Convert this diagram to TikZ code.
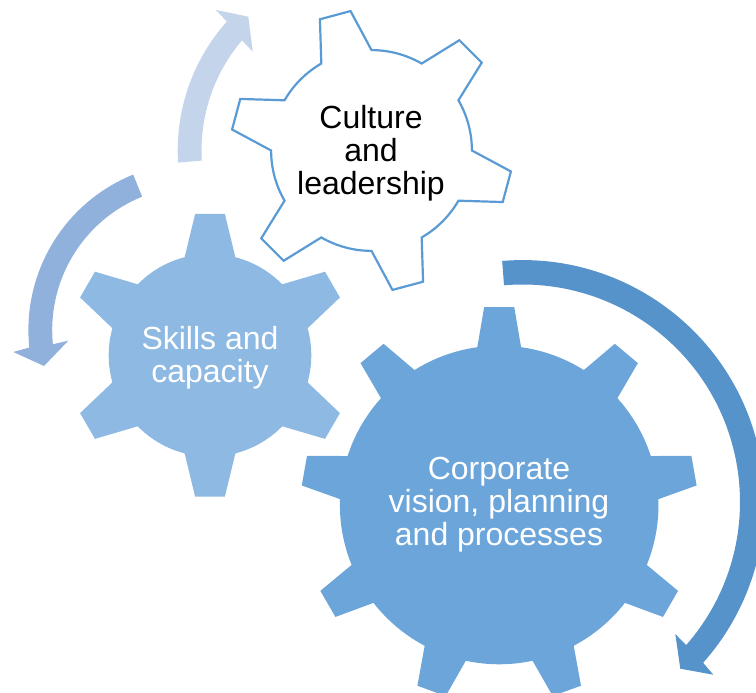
\documentclass[tikz,border=0pt]{standalone}
\usepackage{fontspec}
\setmainfont{Liberation Sans}
\definecolor{gearA}{HTML}{5B9BD5}
\definecolor{gearB}{HTML}{8DB9E2}
\definecolor{gearC}{HTML}{6CA5DA}
\definecolor{arrowA}{HTML}{C3D4EB}
\definecolor{arrowB}{HTML}{90B1DC}
\definecolor{arrowC}{HTML}{5793CB}
% style, shift, teeth list, first tooth, base half angle, tip half angle, step, root r, tip R
\newcommand{\gearpath}[9]{%
  \path[#1,shift={#2}] ({#4-#5}:#8)
    \foreach \ang in {#3} {
      -- ({\ang-#5}:#8) -- ({\ang-#6}:#9) -- ({\ang+#6}:#9) -- ({\ang+#5}:#8)
      arc[start angle={\ang+#5},end angle={\ang+#7-#5},radius=#8]
    } -- cycle;}
\tikzset{
  geartext/.style={align=center,font=\fontsize{32}{33}\selectfont,inner sep=0pt},
  whitegear/.style={draw=gearA,line width=2.2pt,fill=white,line join=miter},
}
\begin{document}
\begin{tikzpicture}[x=1pt,y=1pt]
\useasboundingbox (0,0) rectangle (756,693);
\clip (0,0) rectangle (756,693);
% circular arrows
\fill[arrowC,shift={(522.6,191.1)}] (94.85:241.8)
  arc[start angle=94.85,end angle=-41.7,radius=241.8]
  -- (190.7,-172.8) -- (157.7,-166.8) -- (152.7,-132.1)
  -- (-41.2:217.4) arc[start angle=-41.2,end angle=94.9,radius=217.4] -- cycle;
\fill[arrowB,shift={(196,363)}] (112:167.6)
  arc[start angle=112,end angle=186,radius=167.6]
  -- (-182.7,-22) -- (-152,-36) -- (-127.7,-10.7)
  -- (185.7:143.8) arc[start angle=185.7,end angle=112,radius=143.8] -- cycle;
\fill[arrowA,shift={(371.5,542.5)}] (183.6:193.8)
  arc[start angle=183.6,end angle=138.3,radius=193.8]
  -- (-155.5,140.5) -- (-123.2,133.8) -- (-118.8,98.8)
  -- (139.6:170) arc[start angle=139.6,end angle=183.4,radius=170] -- cycle;
% gears
\gearpath{fill=gearC}{(499.2,188)}{10,50,...,330}{10}{7.9}{4.35}{40}{159.3}{198.4}
\gearpath{fill=gearB}{(210,337.7)}{30,90,...,330}{30}{14.5}{6}{60}{101.3}{142.2}
\gearpath{whitegear}{(371.5,542.5)}{45,105,...,345}{45}{15}{6.45}{60}{100.4}{141}
% labels
\node[geartext,text=black] (culture) at (371,540) {Culture\\and\\leadership};
\node[geartext,text=white] (skills) at (210,335) {Skills and\\capacity};
\node[geartext,text=white] (corporate) at (499,188.5) {Corporate\\vision, planning\\and processes};
\end{tikzpicture}
\end{document}
